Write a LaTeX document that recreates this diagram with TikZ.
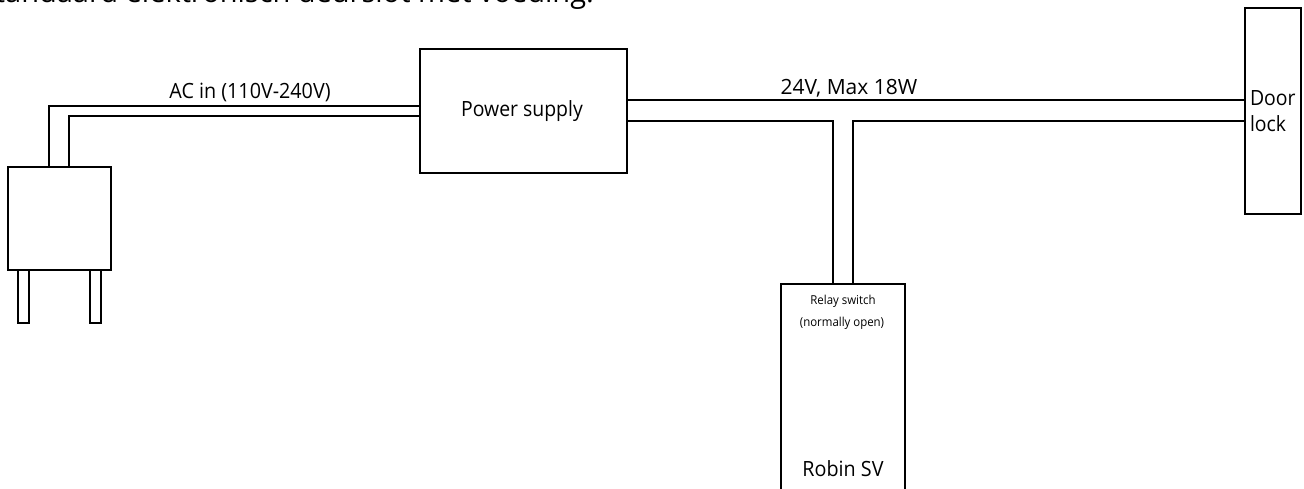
\documentclass[tikz,border=0pt]{standalone}
\usepackage{fontspec}
\setmainfont{Open Sans}
\begin{document}
\begin{tikzpicture}[x=1pt,y=-1pt,
  part/.style={draw=black,line width=1.8pt,fill=white,inner sep=0pt,outer sep=0pt,anchor=north west},
  wire/.style={draw=black,line width=1.8pt,line join=miter},
  lbl/.style={inner sep=0pt,outer sep=0pt,anchor=base,text=black}]
\useasboundingbox (0,0) rectangle (1304,489);
\begin{scope}
\clip (0,0) rectangle (1304,489);
% clipped heading
\node[lbl,anchor=base west,font=\fontsize{29}{29}\selectfont] (head) at (-21,3) {Standaard elektronisch deurslot met voeding.};
% wires
\coordinate (w1a) at (49,167); \coordinate (w1b) at (49,106); \coordinate (w1c) at (420,106);
\coordinate (w2a) at (69,167); \coordinate (w2b) at (69,116); \coordinate (w2c) at (420,116);
\coordinate (o1a) at (627,100); \coordinate (o1b) at (1245,100);
\coordinate (o2a) at (627,121); \coordinate (o2b) at (833,121); \coordinate (o2c) at (833,284);
\coordinate (o3a) at (1245,121); \coordinate (o3b) at (853,121); \coordinate (o3c) at (853,284);
\draw[wire] (w1a) -- (w1b) -- (w1c);
\draw[wire] (w2a) -- (w2b) -- (w2c);
\draw[wire] (o1a) -- (o1b);
\draw[wire] (o2a) -- (o2b) -- (o2c);
\draw[wire] (o3a) -- (o3b) -- (o3c);
% boxes
\node[part,minimum width=103pt,minimum height=103pt] (plug) at (8,167) {};
\node[part,minimum width=11pt,minimum height=53pt] (pinl) at (18,270) {};
\node[part,minimum width=11pt,minimum height=53pt] (pinr) at (90,270) {};
\node[part,minimum width=207pt,minimum height=124pt] (psu) at (420,49) {};
\node[part,minimum width=56pt,minimum height=206pt] (lock) at (1245,8) {};
\node[part,minimum width=124pt,minimum height=230pt] (robin) at (781,284) {};
% labels
\node[lbl,font=\fontsize{21}{21}\selectfont] (aclbl) at (250,99) {\addfontfeature{FakeStretch=0.94}AC in (110V-240V)};
\node[lbl,font=\fontsize{21}{21}\selectfont] (psulbl) at (522,117) {\addfontfeature{FakeStretch=0.925}Power supply};
\node[lbl,font=\fontsize{21}{21}\selectfont] (vlbl) at (849,95) {\addfontfeature{FakeStretch=1.0}24V, Max 18W};
\node[lbl,anchor=base west,font=\fontsize{21}{21}\selectfont] (door) at (1250,106) {\addfontfeature{FakeStretch=0.925}Door};
\node[lbl,anchor=base west,font=\fontsize{21}{21}\selectfont] (lock2) at (1250,132) {\addfontfeature{FakeStretch=0.925}lock};
\node[lbl,font=\fontsize{12.3}{12.3}\selectfont] (relay) at (843,304) {\addfontfeature{FakeStretch=0.93}Relay switch};
\node[lbl,font=\fontsize{12.3}{12.3}\selectfont] (nopen) at (842,326) {\addfontfeature{FakeStretch=0.93}(normally open)};
\node[lbl,font=\fontsize{21}{21}\selectfont] (rob) at (843,476) {\addfontfeature{FakeStretch=0.94}Robin SV};
\end{scope}
\end{tikzpicture}
\end{document}
